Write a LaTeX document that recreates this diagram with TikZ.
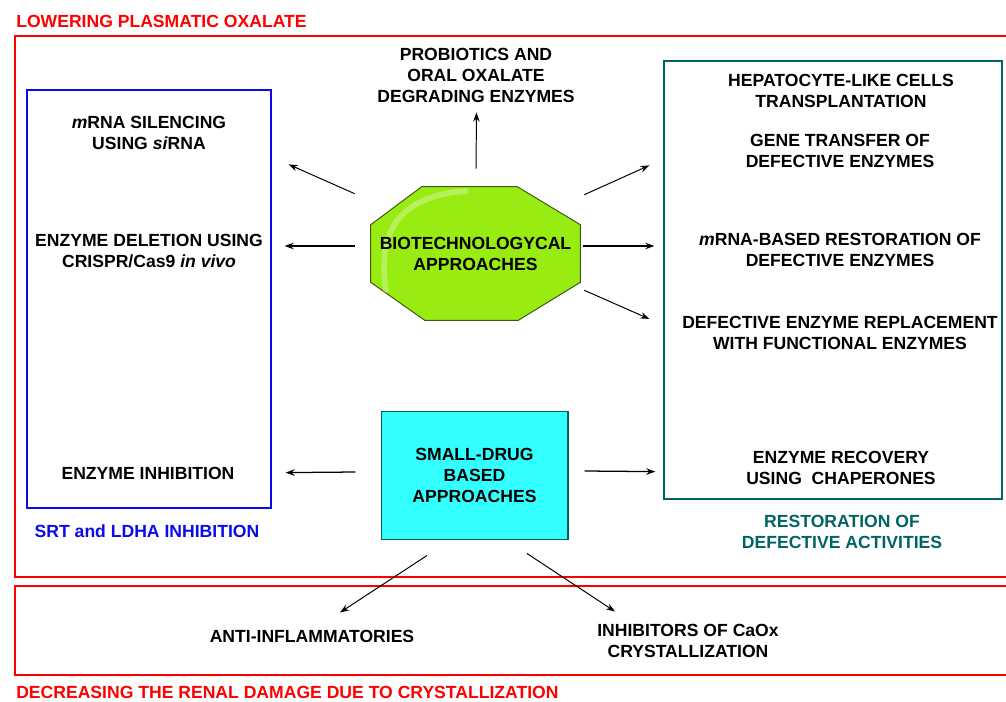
\documentclass[tikz,border=0pt]{standalone}
\usepackage{fontspec}
\setmainfont{Liberation Sans}
\usepackage{tikz}
\usetikzlibrary{arrows.meta,backgrounds}

\definecolor{aimred}{RGB}{255,0,0}
\definecolor{srtblue}{RGB}{10,10,235}
\definecolor{restteal}{RGB}{0,100,100}
\definecolor{biogreen}{RGB}{152,236,18}
\definecolor{bioedge}{RGB}{60,90,20}
\definecolor{drugcyan}{RGB}{51,255,255}
\definecolor{drugedge}{RGB}{0,95,95}

\begin{document}
\begin{tikzpicture}[x=0.025cm, y=-0.025cm,
    txt/.style={font=\bfseries\fontsize{12.5}{14.9}\selectfont, align=center, inner sep=0pt},
    arr/.style={-{Stealth[length=6.5pt,width=4.6pt]}, line width=0.7pt},
    thickarr/.style={arr, line width=1.4pt}]

    \useasboundingbox (0,0) rectangle (1006,702);

    % Frames of the two aims
    \draw[aimred, line width=0.8pt] (15,36) rectangle (1012,577);
    \draw[aimred, line width=0.8pt] (15,586) rectangle (1012,675);
    \node[txt, anchor=west, text=aimred] (lower) at (16,21) {LOWERING PLASMATIC OXALATE};
    \node[txt, anchor=west, text=aimred] (renal) at (16,692) {DECREASING THE RENAL DAMAGE DUE TO CRYSTALLIZATION};

    % Side boxes
    \node[draw=srtblue, line width=0.8pt, minimum width=6.1cm, minimum height=10.45cm] (blue) at (149,299) {};
    \node[draw=restteal, line width=0.8pt, minimum width=8.45cm, minimum height=10.95cm] (teal) at (833,280) {};

    % Biotechnological approaches (octagon)
    \node[txt, minimum width=5.225cm, minimum height=3.325cm] (bio) at (475.5,253.5) {BIOTECHNOLOGYCAL\\APPROACHES};
    \begin{scope}[on background layer]
        \filldraw[fill=biogreen, draw=bioedge, line width=0.7pt]
            ([shift={(51,0)}]bio.north west) -- ([shift={(-63,0)}]bio.north east)
            -- ([shift={(0,38)}]bio.north east) -- ([shift={(0,-38)}]bio.south east)
            -- ([shift={(-62,0)}]bio.south east) -- ([shift={(54,0)}]bio.south west)
            -- ([shift={(0,-38)}]bio.south west) -- ([shift={(0,38)}]bio.north west) -- cycle;
        \draw[white, opacity=0.3, line width=4pt, line cap=round] (386,290) .. controls (377,232) and (398,196) .. (466,191);
    \end{scope}

    % Small-drug approaches
    \node[txt, fill=drugcyan, draw=drugedge, line width=0.7pt, minimum width=4.625cm, minimum height=3.175cm] (drug) at (474.5,475.5) {SMALL-DRUG\\BASED\\APPROACHES};
    \draw[drugedge, line width=1.4pt] (drug.north east) -- (drug.south east) -- (drug.south west);

    % Texts on the left
    \node[txt] (silence) at (149,132.5) {\textit{m}RNA SILENCING\\USING \textit{si}RNA};
    \node[txt] (delete) at (149,251) {ENZYME DELETION USING\\CRISPR/Cas9 \textit{in vivo}};
    \node[txt] (inhib) at (148,473) {ENZYME INHIBITION};
    \node[txt, text=srtblue] (srt) at (147,531) {SRT and LDHA INHIBITION};

    % Text on top
    \node[txt] (probio) at (476,75) {PROBIOTICS AND\\ORAL OXALATE\\DEGRADING ENZYMES};

    % Texts on the right
    \node[txt] (hepato) at (841,90.5) {HEPATOCYTE-LIKE CELLS\\TRANSPLANTATION};
    \node[txt] (gene) at (840,150.5) {GENE TRANSFER OF\\DEFECTIVE ENZYMES};
    \node[txt] (mrna) at (840,249.5) {\textit{m}RNA-BASED RESTORATION OF\\DEFECTIVE ENZYMES};
    \node[txt] (replace) at (840,332.5) {DEFECTIVE ENZYME REPLACEMENT\\WITH FUNCTIONAL ENZYMES};
    \node[txt] (recover) at (841,468) {ENZYME RECOVERY\\USING\ \ CHAPERONES};
    \node[txt, text=restteal] (restore) at (842,531.5) {RESTORATION OF\\DEFECTIVE ACTIVITIES};

    % Texts at the bottom
    \node[txt] (anti) at (312,636) {ANTI-INFLAMMATORIES};
    \node[txt] (caox) at (688,640.5) {INHIBITORS OF CaOx\\CRYSTALLIZATION};

    % Arrows from the octagon
    \draw[arr] ([shift={(0.5,-18)}]bio.north) -- ([shift={(0.5,10)}]probio.south);
    \draw[arr] ([shift={(-16,7)}]bio.north west) -- ([shift={(17,75)}]blue.north east);
    \draw[thickarr] ([shift={(-16,-7.5)}]bio.west) -- ([shift={(13,-53)}]blue.east);
    \draw[arr] ([shift={(4,8)}]bio.north east) -- ([shift={(-14,105)}]teal.north west);
    \draw[thickarr] ([shift={(3,-7.5)}]bio.east) -- ([shift={(-9,-34)}]teal.west);
    \draw[arr] ([shift={(4,-30)}]bio.south east) -- ([shift={(-14,39)}]teal.west);

    % Arrows from the small-drug box
    \draw[arr, line width=0.9pt] ([shift={(-26,-3.5)}]drug.west) -- ([shift={(14,-36)}]blue.south east);
    \draw[arr, line width=0.9pt] ([shift={(17,-4.5)}]drug.east) -- ([shift={(-8,-28)}]teal.south west);
    \draw[arr] ([shift={(-47.5,16)}]drug.south) -- ([shift={(28,-17)}]anti.north);
    \draw[arr] ([shift={(52.5,14)}]drug.south) -- ([shift={(-73,-12)}]caox.north);

\end{tikzpicture}
\end{document}
